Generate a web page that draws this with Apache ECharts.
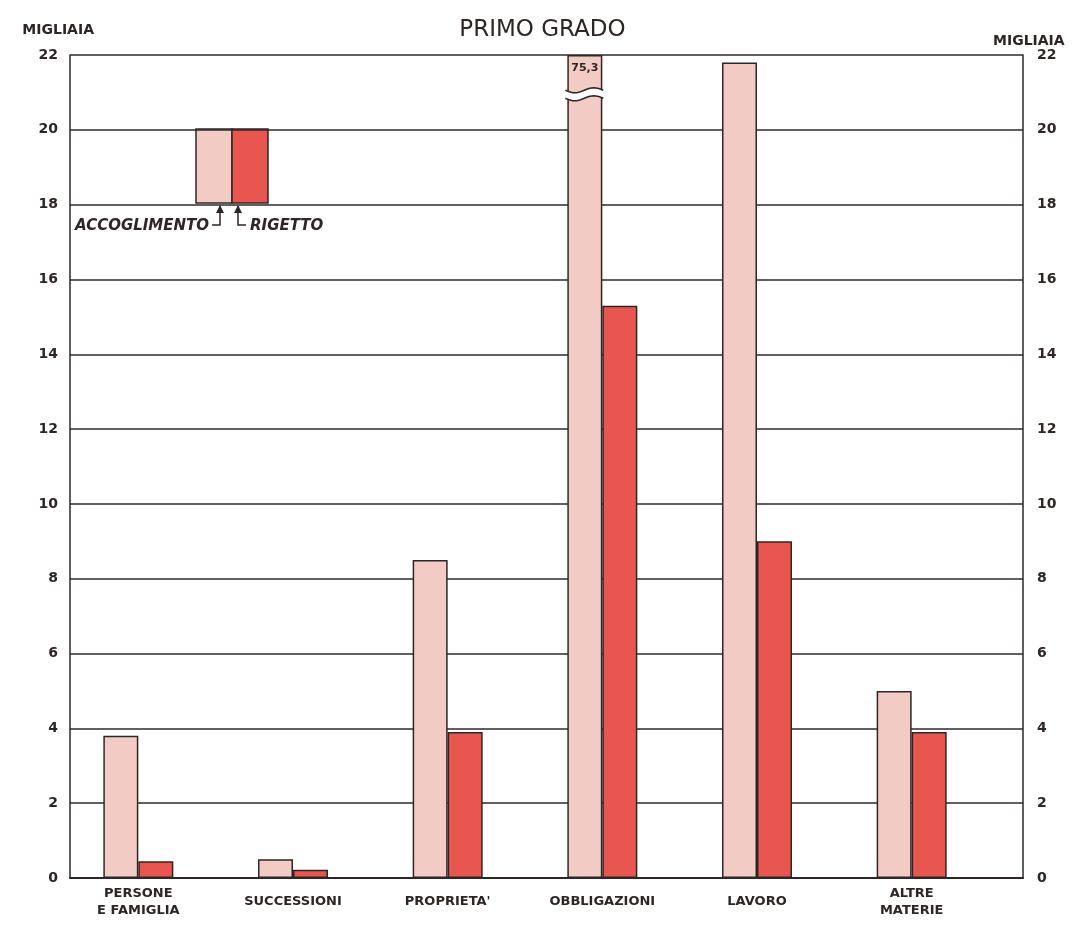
<!DOCTYPE html>
<html>
<head>
    <meta charset="utf-8">
    <script src="https://cdn.jsdelivr.net/npm/echarts@6/dist/echarts.min.js"></script>
</head>
<body style="margin:0;background:#fff;">
<div id="main" style="width:1085px;height:927px;"></div>

<script type="text/javascript">
    // dati (migliaia)
    var categories = ['PERSONE\nE FAMIGLIA', 'SUCCESSIONI', "PROPRIETA'", 'OBBLIGAZIONI', 'LAVORO', 'ALTRE\nMATERIE'];
    var accoglimento = [3.8, 0.5, 8.5, 75.3, 21.8, 5.0];
    var rigetto = [0.45, 0.22, 3.9, 15.3, 9.0, 3.9];
    var yTicks = [0, 2, 4, 6, 8, 10, 12, 14, 16, 18, 20, 22];

    var yMax = 22;
    var ink = '#2e2624';
    var chiaro = '#f3cbc5';
    var scuro = '#e8564f';
    var font = 'DejaVu Sans';

    // barre oltre il massimo: tagliate con interruzione
    var accShown = accoglimento.map(function (v) { return Math.min(v, yMax); });
    var breaks = [];
    accoglimento.forEach(function (v, i) {
        if (v > yMax) breaks.push([i, yMax - 1.05]);
    });

    var dom = document.getElementById('main');
    var myChart = echarts.init(dom);

    var option = {
        backgroundColor: '#fff',
        animation: false,
        title: {
            text: 'PRIMO GRADO',
            left: 'center',
            top: 14,
            textStyle: { fontFamily: font, fontSize: 23, fontWeight: 'normal', color: ink }
        },
        grid: [
            { left: 70, right: 62, top: 55, bottom: 49 },
            { left: 61, right: 96, top: 55, bottom: 49 }
        ],
        xAxis: [
            {
                gridIndex: 0, type: 'category', data: categories,
                axisLine: { lineStyle: { color: ink, width: 2 } },
                axisTick: { show: false }, axisLabel: { show: false }
            },
            {
                gridIndex: 1, type: 'category', data: categories,
                axisLine: { show: false }, axisTick: { show: false },
                axisLabel: {
                    margin: 24, verticalAlign: 'middle', lineHeight: 17,
                    fontFamily: font, fontSize: 13, fontWeight: 'bold', color: ink
                }
            }
        ],
        yAxis: [
            {
                gridIndex: 0, type: 'value', min: 0, max: yMax, interval: 2,
                name: 'MIGLIAIA', nameGap: 18,
                nameTextStyle: { fontFamily: font, fontSize: 14, fontWeight: 'bold', color: ink, align: 'right', padding: [0, -24, 0, 0] },
                axisLine: { show: true, lineStyle: { color: ink, width: 1.5 } },
                axisTick: { show: false },
                splitLine: { lineStyle: { color: '#2f2a29', width: 1.6 } },
                axisLabel: { margin: 12, fontFamily: font, fontSize: 14, fontWeight: 'bold', color: ink }
            },
            {
                gridIndex: 0, type: 'value', min: 0, max: yMax, interval: 2, position: 'right',
                name: 'MIGLIAIA', nameGap: 6,
                nameTextStyle: { fontFamily: font, fontSize: 14, fontWeight: 'bold', color: ink, align: 'left', padding: [0, 0, 0, -30] },
                axisLine: { show: true, lineStyle: { color: ink, width: 1.5 } },
                axisTick: { show: false }, splitLine: { show: false },
                axisLabel: { margin: 14, fontFamily: font, fontSize: 14, fontWeight: 'bold', color: ink }
            },
            {
                gridIndex: 1, type: 'value', min: 0, max: yMax, interval: 2, show: false
            }
        ],
        series: [
            {
                name: 'ACCOGLIMENTO', type: 'bar', xAxisIndex: 1, yAxisIndex: 2,
                data: accShown, barWidth: 35, barGap: '0%',
                itemStyle: { color: chiaro, borderColor: ink, borderWidth: 1.5 },
                label: {
                    show: true, position: 'insideTop', distance: 8,
                    formatter: function (p) {
                        var v = accoglimento[p.dataIndex];
                        return v > yMax ? String(v).replace('.', ',') : '';
                    },
                    fontFamily: font, fontSize: 11, fontWeight: 'bold', color: ink
                }
            },
            {
                name: 'RIGETTO', type: 'bar', xAxisIndex: 1, yAxisIndex: 2,
                data: rigetto, barWidth: 35, barGap: '0%',
                itemStyle: { color: scuro, borderColor: ink, borderWidth: 1.5 }
            },
            {
                type: 'custom', xAxisIndex: 1, yAxisIndex: 2, data: breaks, z: 5,
                renderItem: function (params, api) {
                    var c = api.coord([api.value(0), api.value(1)]);
                    var x0 = c[0] - 37, x1 = c[0] + 1;
                    var top = [], bot = [];
                    for (var k = 0; k <= 20; k++) {
                        var x = x0 + (x1 - x0) * k / 20;
                        var w = Math.sin(k / 20 * Math.PI * 2) * 2.5;
                        top.push([x, c[1] - 4 + w]);
                        bot.push([x, c[1] + 4 + w]);
                    }
                    var poly = top.concat(bot.slice().reverse());
                    return {
                        type: 'group',
                        children: [
                            { type: 'polygon', shape: { points: poly }, style: { fill: '#fff' } },
                            { type: 'polyline', shape: { points: top }, style: { stroke: ink, lineWidth: 1.5, fill: null } },
                            { type: 'polyline', shape: { points: bot }, style: { stroke: ink, lineWidth: 1.5, fill: null } }
                        ]
                    };
                }
            }
        ],
        graphic: [
            { type: 'rect', shape: { x: 196, y: 129, width: 36, height: 74 }, style: { fill: chiaro, stroke: ink, lineWidth: 1.5 } },
            { type: 'rect', shape: { x: 232, y: 129, width: 36, height: 74 }, style: { fill: scuro, stroke: ink, lineWidth: 1.5 } },
            { type: 'polyline', shape: { points: [[220, 206], [220, 225], [212, 225]] }, style: { stroke: ink, lineWidth: 1.5, fill: null } },
            { type: 'polygon', shape: { points: [[216, 213], [220, 205], [224, 213]] }, style: { fill: ink } },
            { type: 'polyline', shape: { points: [[238, 206], [238, 225], [246, 225]] }, style: { stroke: ink, lineWidth: 1.5, fill: null } },
            { type: 'polygon', shape: { points: [[234, 213], [238, 205], [242, 213]] }, style: { fill: ink } },
            { type: 'text', x: 75, y: 219, style: { text: 'ACCOGLIMENTO', fill: ink, font: 'italic bold 15px "DejaVu Sans"' } },
            { type: 'text', x: 250, y: 219, style: { text: 'RIGETTO', fill: ink, font: 'italic bold 15px "DejaVu Sans"' } }
        ]
    };

    myChart.setOption(option, true);
</script>
</body>
</html>
